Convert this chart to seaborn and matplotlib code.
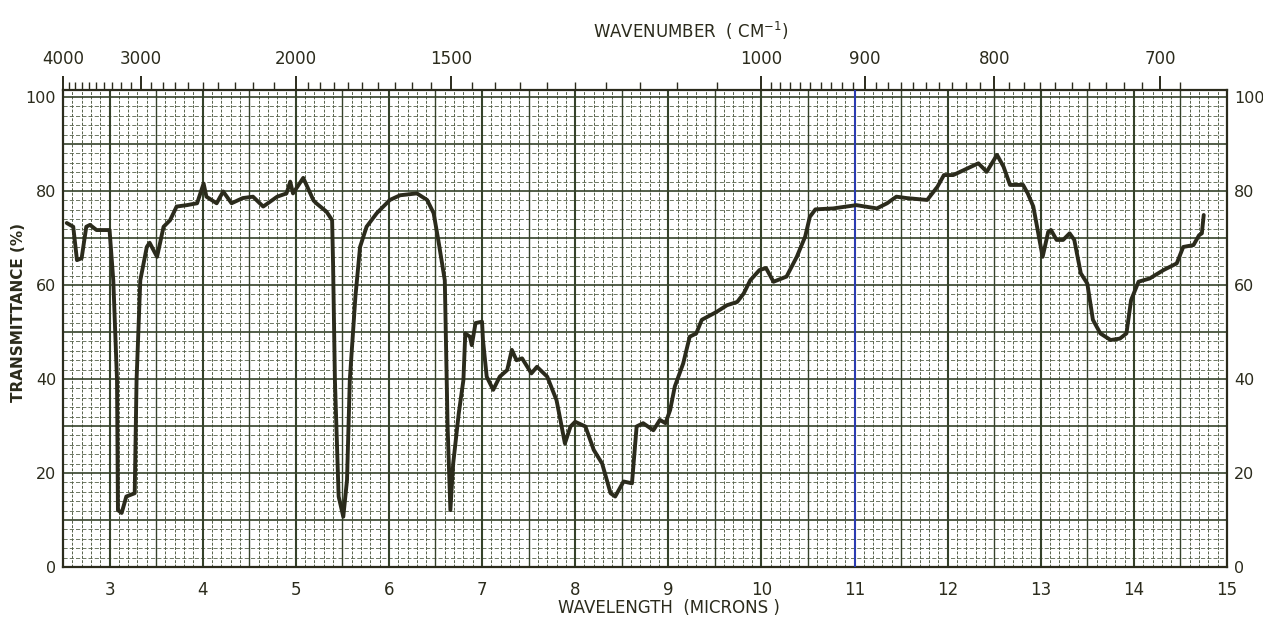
import numpy as np
import pandas as pd
import matplotlib
matplotlib.use("Agg")
import matplotlib.pyplot as plt
import seaborn as sns
from matplotlib.ticker import FixedLocator

# IR spectrum: wavelength (microns) vs transmittance (%)
wavelength = [2.54, 2.61, 2.65, 2.70, 2.75, 2.79, 2.86, 3.00, 3.04, 3.08, 3.09, 3.13,
              3.18, 3.27, 3.29, 3.33, 3.40, 3.43, 3.51, 3.58, 3.65, 3.72, 3.83, 3.94,
              4.01, 4.04, 4.15, 4.22, 4.31, 4.43, 4.54, 4.65, 4.80, 4.90, 4.94, 4.97,
              5.08, 5.19, 5.22, 5.33, 5.39, 5.40, 5.42, 5.46, 5.51, 5.55, 5.58, 5.64,
              5.69, 5.76, 5.87, 5.94, 6.01, 6.12, 6.30, 6.41, 6.48, 6.53, 6.60, 6.63,
              6.66, 6.69, 6.75, 6.80, 6.82, 6.87, 6.89, 6.93, 7.00, 7.01, 7.05, 7.12,
              7.19, 7.27, 7.32, 7.37, 7.43, 7.53, 7.59, 7.70, 7.80, 7.89, 7.95, 8.00,
              8.11, 8.20, 8.29, 8.38, 8.43, 8.52, 8.61, 8.66, 8.73, 8.84, 8.91, 8.97,
              9.02, 9.07, 9.16, 9.23, 9.30, 9.36, 9.52, 9.63, 9.74, 9.81, 9.88, 9.98,
              10.05, 10.13, 10.27, 10.38, 10.47, 10.52, 10.58, 10.77, 11.02, 11.24, 11.35, 11.45,
              11.56, 11.78, 11.89, 11.96, 12.06, 12.21, 12.33, 12.42, 12.53, 12.60, 12.67, 12.81,
              12.86, 12.92, 13.02, 13.08, 13.11, 13.17, 13.24, 13.31, 13.36, 13.43, 13.50, 13.56,
              13.64, 13.75, 13.85, 13.92, 13.97, 14.05, 14.17, 14.32, 14.46, 14.53, 14.64, 14.70,
              14.73, 14.75]
transmittance = [73.2, 72.4, 65.3, 65.7, 72.4, 72.8, 71.7, 71.7, 61.0, 39.8, 12.1, 11.5,
                 15.0, 15.7, 39.8, 61.0, 68.1, 69.0, 66.0, 72.4, 73.8, 76.7, 77.0, 77.4,
                 81.6, 78.8, 77.4, 79.9, 77.4, 78.5, 78.8, 76.7, 78.8, 79.5, 82.0, 79.5,
                 82.8, 78.0, 77.4, 75.6, 73.8, 64.7, 39.8, 15.0, 10.7, 18.5, 39.8, 57.5,
                 68.1, 72.4, 75.3, 76.7, 78.1, 79.1, 79.5, 78.1, 75.3, 69.6, 61.0, 30.0,
                 12.1, 22.0, 32.7, 39.8, 49.7, 49.0, 47.2, 51.9, 52.2, 48.3, 40.5, 37.7,
                 40.5, 41.9, 46.2, 44.0, 44.4, 41.2, 42.6, 40.5, 35.5, 26.3, 29.9, 30.9,
                 29.9, 24.9, 22.0, 15.7, 15.0, 18.2, 17.8, 29.9, 30.6, 29.1, 31.3, 30.6,
                 33.4, 38.4, 43.3, 49.0, 49.7, 52.6, 54.3, 55.7, 56.4, 58.2, 61.0, 63.2,
                 63.6, 60.7, 61.8, 66.0, 70.3, 74.5, 76.1, 76.3, 77.0, 76.3, 77.4, 78.8,
                 78.5, 78.1, 80.9, 83.4, 83.4, 84.8, 85.9, 84.1, 87.7, 85.2, 81.3, 81.3,
                 79.5, 76.7, 66.0, 71.3, 71.7, 69.6, 69.6, 71.0, 69.6, 62.5, 60.3, 52.6,
                 49.7, 48.3, 48.6, 49.7, 56.8, 60.7, 61.4, 63.2, 64.6, 68.1, 68.5, 70.6,
                 71.0, 74.9]

bottom_ticks = list(range(3, 16))
left_ticks = [0, 20, 40, 60, 80, 100]
wavenumber_ticks = [4000, 3000, 2000, 1500, 1000, 900, 800, 700]

df = pd.DataFrame({"wavelength": wavelength, "transmittance": transmittance})

sns.set_style("white")
plt.rcParams["font.family"] = ["DejaVu Sans"]

ink = "#2b2b1c"
grid_col = "#35422a"
minor_col = "#56624a"

fig = plt.figure(figsize=(12.63, 6.22), dpi=100)
ax = fig.add_axes([63 / 1263, 1 - 567 / 622, (1227 - 63) / 1263, (567 - 90) / 622])

sns.lineplot(data=df, x="wavelength", y="transmittance", ax=ax,
             color=ink, linewidth=2.8, zorder=5)

ax.set_xlim(2.5, 15)
ax.set_ylim(0, 101.5)

# chart paper grid, drawn by hand
for i in range(26, 150):
    v = i / 10
    if i % 10 == 0:
        ax.axvline(v, color=grid_col, linewidth=1.5, zorder=2)
    elif i % 5 == 0:
        ax.axvline(v, color=grid_col, linewidth=1.0, zorder=2)
    else:
        ax.axvline(v, color=minor_col, linewidth=0.7, linestyle=(0, (3, 1.5)), zorder=1)
for v in range(2, 101, 2):
    if v % 10 == 0:
        ax.axhline(v, color=grid_col, linewidth=1.2, zorder=2)
    else:
        ax.axhline(v, color=minor_col, linewidth=0.6, linestyle=(0, (5, 2.5)), zorder=1)
ax.axvline(11, color="#2a3cc0", linewidth=1.3, zorder=3)

# tick labels: bottom integers, left/right every 20
ax.set_xticks(bottom_ticks, labels=[str(t) for t in bottom_ticks])
ax.tick_params(axis="x", which="both", length=0, pad=10, labelsize=12, labelcolor=ink)
ax.set_yticks(left_ticks, labels=[str(t) for t in left_ticks])
ax.tick_params(axis="y", which="both", length=0, pad=5, labelsize=11.5, labelcolor=ink,
               labelright=True, right=False)
ax.grid(False)

for s in ax.spines.values():
    s.set_color(ink)
    s.set_linewidth(1.6)

ax.set_xlabel("")
ax.set_ylabel("")

# wavenumber scale on top
secax = ax.secondary_xaxis("top", functions=(lambda x: 1e4 / np.asarray(x, dtype=float),
                                             lambda x: 1e4 / np.asarray(x, dtype=float)))
secax.xaxis.set_major_locator(FixedLocator(wavenumber_ticks))
secax.xaxis.set_ticklabels([str(t) for t in wavenumber_ticks])
minor_wn = list(range(4000, 2000, -100)) + list(range(2000, 1000, -50)) + list(range(1000, 680, -10))
secax.xaxis.set_minor_locator(FixedLocator(minor_wn))
secax.tick_params(axis="x", which="major", length=10, width=1.4, color=ink, pad=6,
                  labelsize=12, labelcolor=ink)
secax.tick_params(axis="x", which="minor", length=6, width=1.0, color=ink)
secax.spines["top"].set_visible(False)

fig.text(0.547, 1 - 31 / 622, "WAVENUMBER  ( CM$^{-1}$)", ha="center", va="center",
         fontsize=12, color=ink)
fig.text(0.53, 1 - 608 / 622, "WAVELENGTH  (MICRONS )", ha="center", va="center",
         fontsize=12, color=ink)
fig.text(0.015, 1 - 312 / 622, "TRANSMITTANCE (%)", ha="center", va="center",
         rotation=90, fontsize=11, fontweight="bold", color=ink)

fig.savefig("out.png", dpi=100, facecolor="white")
